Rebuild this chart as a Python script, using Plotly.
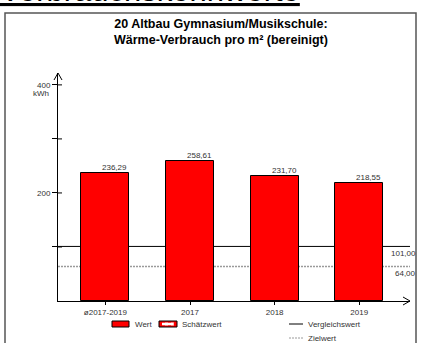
import plotly.graph_objects as go

# ---- data ----
categories = ["ø2017-2019", "2017", "2018", "2019"]
values = [236.29, 258.61, 231.70, 218.55]
value_labels = ["236,29", "258,61", "231,70", "218,55"]
ref_names = ["Vergleichswert", "Zielwert"]
ref_values = [101.00, 64.00]
ref_labels = ["101,00", "64,00"]
y_tickvals = [100, 200, 300, 400]
y_ticktext = ["", "200", "", "400"]
legend_bar_names = ["Wert", "Schätzwert"]
title_text = "20 Altbau Gymnasium/Musikschule:<br>Wärme-Verbrauch pro m² (bereinigt)"
heading_text = "Verbrauchskennwerte"

W, H = 422, 343
L, R, T, B = 58, 12, 73, 42
PW, PH = W - L - R, H - T - B
FONT = "Arial, Liberation Sans, sans-serif"


def xp(px):
    return (px - L) / PW


def yp(py):
    return (H - B - py) / PH


BAR_W = 0.567
fig = go.Figure()
fig.add_trace(go.Bar(
    x=list(range(len(categories))), y=values, width=BAR_W,
    marker=dict(color="#ff0000", line=dict(color="#000000", width=1)),
    showlegend=False, hoverinfo="skip",
))

shapes = []
annotations = []

# reference lines
ref_styles = [dict(color="#000000", width=1, dash="solid"),
              dict(color="#9a9a9a", width=1.5, dash="2px,1px")]
for v, lab, st in zip(ref_values, ref_labels, ref_styles):
    shapes.append(dict(type="line", xref="paper", yref="y", x0=0, x1=1, y0=v, y1=v,
                       line=st, layer="below"))
    annotations.append(dict(xref="paper", yref="y", x=xp(418), y=v, yshift=-1,
                            text=lab, showarrow=False, xanchor="right", yanchor="top",
                            font=dict(family=FONT, size=8, color="#333333")))

# value labels
for i, (v, lab) in enumerate(zip(values, value_labels)):
    annotations.append(dict(x=i + BAR_W / 2, y=v, text=lab, showarrow=False,
                            xanchor="right", yanchor="bottom", yshift=-1,
                            font=dict(family=FONT, size=8, color="#333333")))

# y ticks crossing the axis (inside part)
for tv in y_tickvals:
    shapes.append(dict(type="line", xref="paper", yref="y", x0=0, x1=xp(62), y0=tv, y1=tv,
                       line=dict(color="#000000", width=1)))

# kWh unit
annotations.append(dict(xref="paper", yref="paper", x=xp(51), y=yp(93), text="kWh",
                        showarrow=False, xanchor="right", yanchor="middle",
                        font=dict(family=FONT, size=8, color="#333333")))

# axis arrows
shapes.append(dict(type="path", xref="paper", yref="paper", xsizemode="pixel", ysizemode="pixel",
                   xanchor=0, yanchor=1, path="M-4,-7 L0,0 L4,-7",
                   line=dict(color="#000000", width=1)))
shapes.append(dict(type="path", xref="paper", yref="paper", xsizemode="pixel", ysizemode="pixel",
                   xanchor=1, yanchor=0, path="M-7,4 L0,0 L-7,-4",
                   line=dict(color="#000000", width=1)))

# title
annotations.append(dict(xref="paper", yref="paper", x=xp(221), y=yp(15), text="<b>" + title_text + "</b>",
                        showarrow=False, xanchor="center", yanchor="top",
                        font=dict(family=FONT, size=12.5, color="#000000")))

# clipped heading
annotations.append(dict(xref="paper", yref="paper", x=xp(-2), y=yp(10), text="<u>" + heading_text + "</u>",
                        showarrow=False, xanchor="left", yanchor="bottom",
                        font=dict(family=FONT, size=31, color="#000000")))

# frame
shapes.append(dict(type="rect", xref="paper", yref="paper", x0=xp(5), x1=xp(416), y0=yp(360), y1=yp(13),
                   line=dict(color="#555555", width=1.5), fillcolor="rgba(0,0,0,0)"))

# legend
ly1, ly2 = 324, 338
shapes.append(dict(type="rect", xref="paper", yref="paper", x0=xp(112), x1=xp(129), y0=yp(327), y1=yp(321),
                   fillcolor="#ff0000", line=dict(color="#000000", width=1)))
annotations.append(dict(xref="paper", yref="paper", x=xp(133), y=yp(ly1), text=legend_bar_names[0],
                        showarrow=False, xanchor="left", yanchor="middle",
                        font=dict(family=FONT, size=8, color="#333333")))
shapes.append(dict(type="rect", xref="paper", yref="paper", x0=xp(159), x1=xp(177), y0=yp(327), y1=yp(321),
                   fillcolor="#ff0000", line=dict(color="#000000", width=1)))
shapes.append(dict(type="rect", xref="paper", yref="paper", x0=xp(162), x1=xp(174), y0=yp(325.5), y1=yp(322.5),
                   fillcolor="#ffffff", line=dict(color="#ff0000", width=0.5, dash="dot")))
annotations.append(dict(xref="paper", yref="paper", x=xp(180), y=yp(ly1), text=legend_bar_names[1],
                        showarrow=False, xanchor="left", yanchor="middle",
                        font=dict(family=FONT, size=8, color="#333333")))
for name, st, ly in zip(ref_names, ref_styles, [ly1, ly2]):
    shapes.append(dict(type="line", xref="paper", yref="paper", x0=xp(289), x1=xp(303), y0=yp(ly), y1=yp(ly),
                       line=dict(color=st["color"], width=1, dash=st["dash"])))
    annotations.append(dict(xref="paper", yref="paper", x=xp(306), y=yp(ly), text=name,
                            showarrow=False, xanchor="left", yanchor="middle",
                            font=dict(family=FONT, size=8, color="#333333")))

fig.update_layout(
    width=W, height=H, margin=dict(l=L, r=R, t=T, b=B, pad=0),
    paper_bgcolor="#ffffff", plot_bgcolor="#ffffff",
    bargap=0, showlegend=False,
    shapes=shapes, annotations=annotations,
    font=dict(family=FONT, size=8, color="#333333"),
    xaxis=dict(range=[-0.56, 3.6], tickvals=list(range(len(categories))), ticktext=categories,
               showline=True, linecolor="#000000", linewidth=1, ticks="outside", ticklen=3,
               tickcolor="#000000", showgrid=False, zeroline=False, fixedrange=True,
               tickfont=dict(family=FONT, size=8, color="#333333")),
    yaxis=dict(range=[0, 422], tickvals=y_tickvals, ticktext=y_ticktext,
               showline=True, linecolor="#000000", linewidth=1, ticks="outside", ticklen=5,
               tickcolor="#000000", showgrid=False, zeroline=False, fixedrange=True,
               tickfont=dict(family=FONT, size=8, color="#333333")),
)

fig.write_html("out.html", config={"displayModeBar": False},
               post_script="document.body.style.margin='0';document.body.style.overflow='hidden';")
